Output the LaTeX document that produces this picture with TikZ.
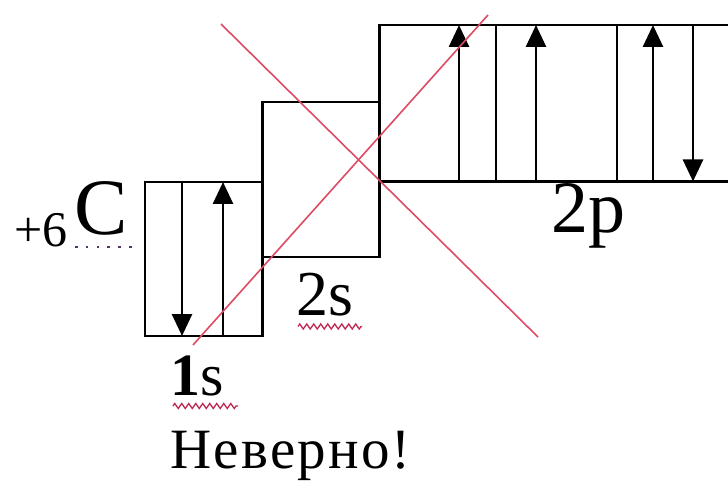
\documentclass[tikz,border=0pt]{standalone}
\usepackage{fontspec}
\setmainfont{Liberation Serif}
\newfontfamily\wrongfont[LetterSpace=4]{Liberation Serif}
\usetikzlibrary{arrows.meta,decorations.pathmorphing}
\definecolor{crossred}{RGB}{222,75,100}
\definecolor{squig}{RGB}{190,40,80}
\definecolor{dotc}{RGB}{80,55,100}
\tikzset{
  orb/.style={draw=black,line width=2.7pt},
  spin/.style={draw=black,line width=2.7pt,-{Triangle[length=22pt,width=20pt]}},
  cross/.style={draw=crossred,line width=1.6pt},
  squiggle/.style={draw=squig,line width=1.3pt,decorate,decoration={zigzag,segment length=7pt,amplitude=2.5pt}},
  dotline/.style={draw=dotc,line width=2.6pt,dash pattern=on 2.6pt off 8.2pt},
  lbl/.style={inner sep=0pt,anchor=base west},
}
\begin{document}
\begin{tikzpicture}[x=1pt,y=-1pt]
\useasboundingbox (0,0) rectangle (728,481);
\fill[white] (0,0) rectangle (728,481);
% orbital boxes
\draw[orb] (145,182) rectangle (262.5,336);
\draw[orb] (262.5,102) rectangle (379.5,257);
\draw[orb] (740,25) -- (379.5,25) -- (379.5,181.5) -- (740,181.5);
\draw[orb] (496,25) -- (496,181.5);
\draw[orb] (617,25) -- (617,181.5);
% electrons
\coordinate (a1t) at (182,182); \coordinate (a1b) at (182,336);
\coordinate (a2t) at (223,182); \coordinate (a2b) at (223,336);
\coordinate (a3t) at (459,25);  \coordinate (a3b) at (459,181.5);
\coordinate (a4t) at (536,25);  \coordinate (a4b) at (536,181.5);
\coordinate (a5t) at (653,25);  \coordinate (a5b) at (653,181.5);
\coordinate (a6t) at (693,25);  \coordinate (a6b) at (693,181.5);
\draw[spin] (a1t) -- (a1b);
\draw[spin] (a2b) -- (a2t);
\draw[spin] (a3b) -- (a3t);
\draw[spin] (a4b) -- (a4t);
\draw[spin] (a5b) -- (a5t);
\draw[spin] (a6t) -- (a6b);
% labels
\node[lbl,font=\fontsize{50}{50}\selectfont] (charge) at (14,246) {+6};
\node[lbl,font=\fontsize{80}{80}\selectfont] (elem) at (74,234) {C};
\node[lbl,font=\fontsize{74}{74}\selectfont] (ptwo) at (551,233) {2p};
\node[lbl,font=\fontsize{64}{64}\selectfont] (stwo) at (296,315) {2s};
\node[lbl,font=\fontsize{60}{60}\selectfont] (sone) at (170,395) {\textbf{1}s};
\node[lbl,font=\fontsize{57}{57}\selectfont\wrongfont] (wrong) at (170,468) {Неверно!};
% spell-check marks
\draw[dotline] (75,247) -- (135,247);
\draw[squiggle] (173,406) -- (238,406);
\draw[squiggle] (298,326.5) -- (362,326.5);
% red cross
\draw[cross] (221,24) -- (538,337);
\draw[cross] (193,345) -- (488,15);
\end{tikzpicture}
\end{document}
